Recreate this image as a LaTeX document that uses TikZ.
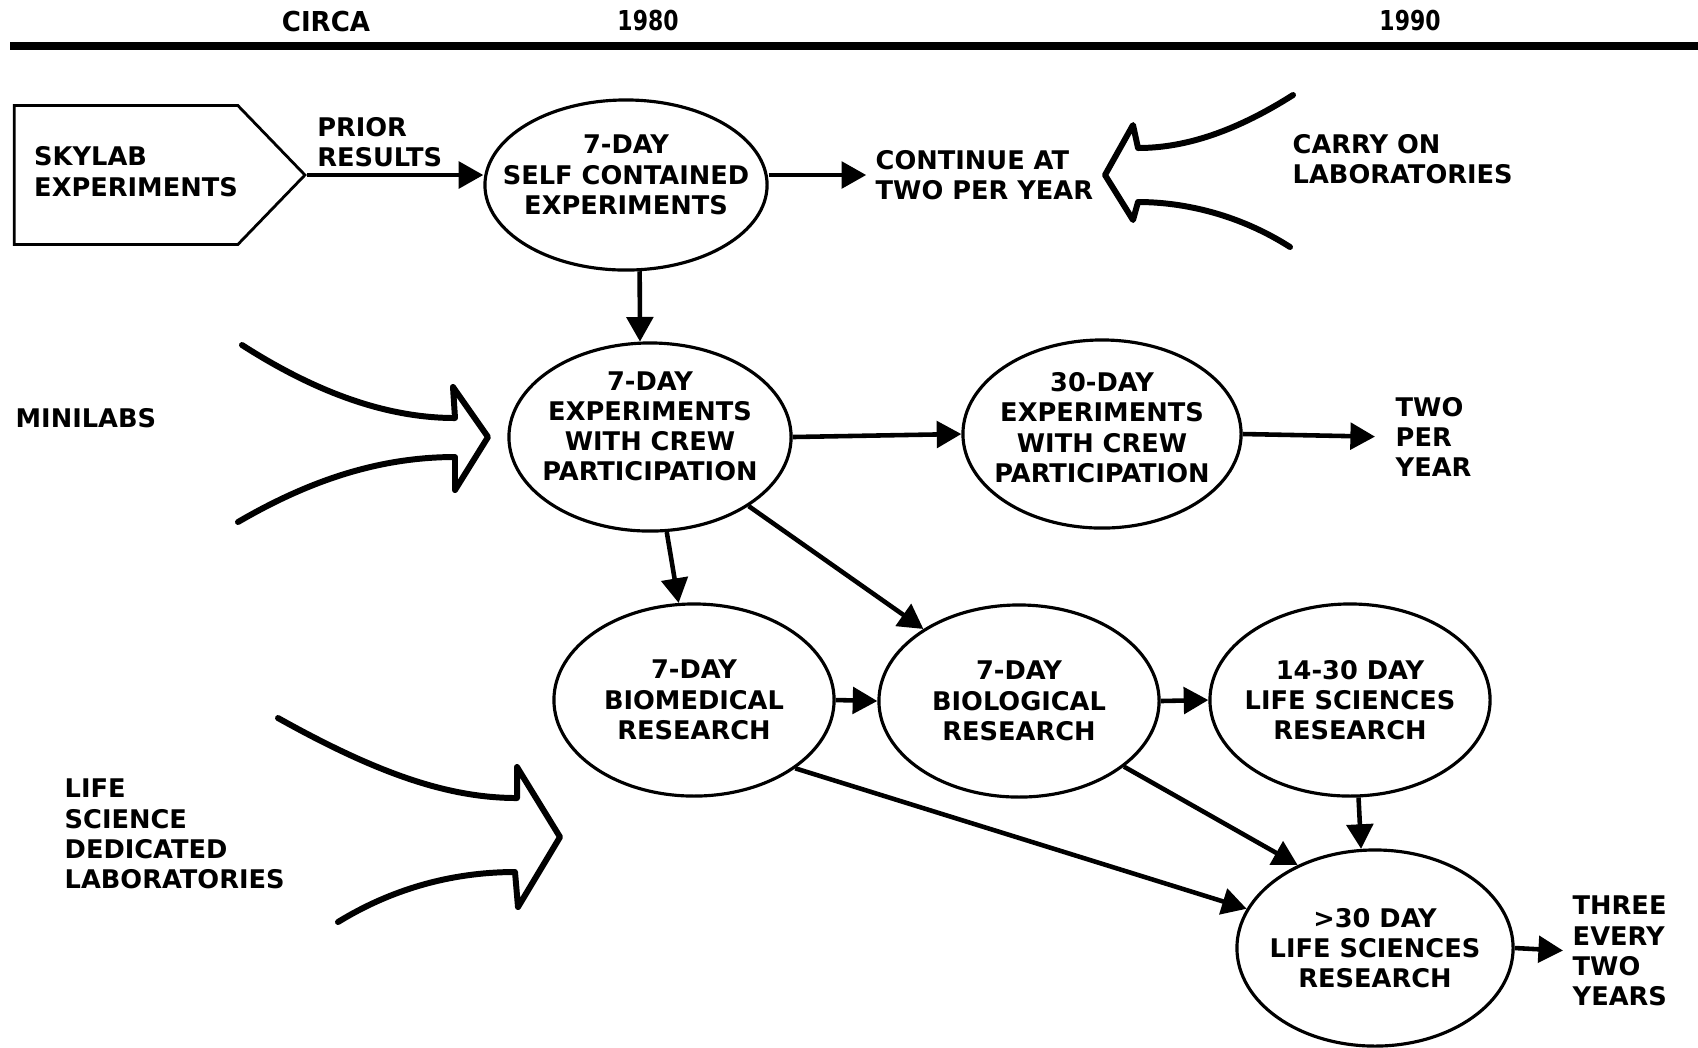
\documentclass[tikz,border=0pt]{standalone}
\usepackage{fontspec}
\setmainfont{DejaVu Sans}
\usepackage{tikz}
\usetikzlibrary{
  arrows.meta,
  shapes.geometric,
  shapes.symbols
}
\newcommand{\lbl}{\fontsize{7.3}{8.6}\selectfont\bfseries}
\newcommand{\yearfont}{\fontsize{7.8}{9}\selectfont\bfseries}
\tikzset{
  stage/.style={
    ellipse, draw, line width=0.9pt, inner xsep=-0.4cm, inner ysep=0pt,
    minimum width=2.8cm, minimum height=1.92cm, align=center,
    font=\lbl
  },
  note/.style={
    inner sep=0pt, align=left, font=\lbl, anchor=west
  },
  flow/.style={
    -{Triangle[length=7pt,width=7.5pt]}, line width=1.3pt
  },
  bigarrow/.style={
    line width=1.7pt, line join=round, line cap=round
  },
  yearmark/.style={
    inner sep=0pt, font=\yearfont
  },
}

\begin{document}
\begin{tikzpicture}[x=0.01cm, y=-0.01cm]
  \useasboundingbox (0,0) rectangle (1698,1047);

  \node[yearmark] (circa) at (326,22) {\scalebox{0.95}[1]{CIRCA}};
  \node[yearmark] (y1980) at (648,20) {\scalebox{0.8}[1]{1980}};
  \node[yearmark] (y1990) at (1410,20) {\scalebox{0.8}[1]{1990}};
  \coordinate (tl) at (10,46);
  \coordinate (tr) at (1698,46);
  \draw[line width=2.3pt] (tl) -- (tr);

  \node[signal, signal to=east, signal from=nowhere, signal pointer angle=92,
    draw, line width=0.8pt, inner xsep=0pt, minimum width=2.85cm, minimum height=1.39cm,
    font=\lbl] (skylab) at (126,175)
    {\begin{tabular}{@{\hspace{0.2cm}}l@{}}SKYLAB\\EXPERIMENTS\end{tabular}};

  \node[stage, minimum width=2.82cm, minimum height=1.70cm, text depth=5.9pt]
    (e1) at (626,185) {7-DAY\\SELF CONTAINED\\EXPERIMENTS};
  \node[stage, minimum width=2.82cm, minimum height=1.88cm, text depth=6.2pt]
    (e2) at (650,437) {7-DAY\\EXPERIMENTS\\WITH CREW\\PARTICIPATION};
  \node[stage, minimum width=2.78cm, minimum height=1.88cm, text depth=3.7pt]
    (e3) at (1102,434) {30-DAY\\EXPERIMENTS\\WITH CREW\\PARTICIPATION};
  \node[stage] (e4) at (694,700) {7-DAY\\BIOMEDICAL\\RESEARCH};
  \node[stage] (e5) at (1019,701) {7-DAY\\BIOLOGICAL\\RESEARCH};
  \node[stage] (e6) at (1350,700) {14-30 DAY\\LIFE SCIENCES\\RESEARCH};
  \node[stage, minimum width=2.76cm, minimum height=1.96cm]
    (e7) at (1375,948) {>30 DAY\\LIFE SCIENCES\\RESEARCH};

  \node[note] (cont) at (875,175) {CONTINUE AT\\TWO PER YEAR};
  \node[note] (carry) at (1292,159) {CARRY ON\\LABORATORIES};
  \node[note] (twoper) at (1395,437) {TWO\\PER\\YEAR};
  \node[note] (three) at (1572,951) {THREE\\EVERY\\TWO\\YEARS};
  \node[note] (minilabs) at (15,418) {MINILABS};
  \node[note] (lifesci) at (64,834) {LIFE\\SCIENCE\\DEDICATED\\LABORATORIES};

  \draw[flow] (skylab.east) -- (skylab.east -| e1.west)
    node[pos=0, note, anchor=south west, xshift=2.3pt, yshift=1.6pt] (prior) {PRIOR\\RESULTS};
  \draw[flow, shorten >=2.5pt] (e1.east |- cont.west) -- (cont.west);
  \draw[flow] (e1.-81) -- (e2.96);
  \draw[flow] (e2.east) -- (e3.west);
  \draw[flow, shorten >=0.2cm] (e3.east) -- (twoper.west);
  \draw[flow] (e2.-80) -- (e4.99);
  \draw[flow] (e2.-35) -- (e5.143);
  \draw[flow] (e4.east) -- (e5.west);
  \draw[flow] (e5.east) -- (e6.west);
  \draw[flow] (e6.-85) -- (e7.98);
  \draw[flow] (e5.-32) -- (e7.133);
  \draw[flow] (e4.-34) -- (e7.163);
  \draw[flow, shorten >=0.09cm] (e7.east) -- (three.west);

  \draw[bigarrow] (1293,95) .. controls (1230,135) and (1180,148) .. (1138,148)
    -- (1133,125) -- (1105,175) -- (1133,220) -- (1138,202)
    .. controls (1185,202) and (1240,215) .. (1290,247);
  \draw[bigarrow] (242,345) .. controls (320,395) and (390,418) .. (455,418)
    -- (453,387) -- (488,437) -- (455,490) -- (455,457)
    .. controls (380,457) and (310,480) .. (238,522);
  \draw[bigarrow] (278,718) .. controls (380,775) and (450,798) .. (517,798)
    -- (517,767) -- (560,837) -- (518,907) -- (515,872)
    .. controls (450,872) and (390,890) .. (338,922);
\end{tikzpicture}
\end{document}
